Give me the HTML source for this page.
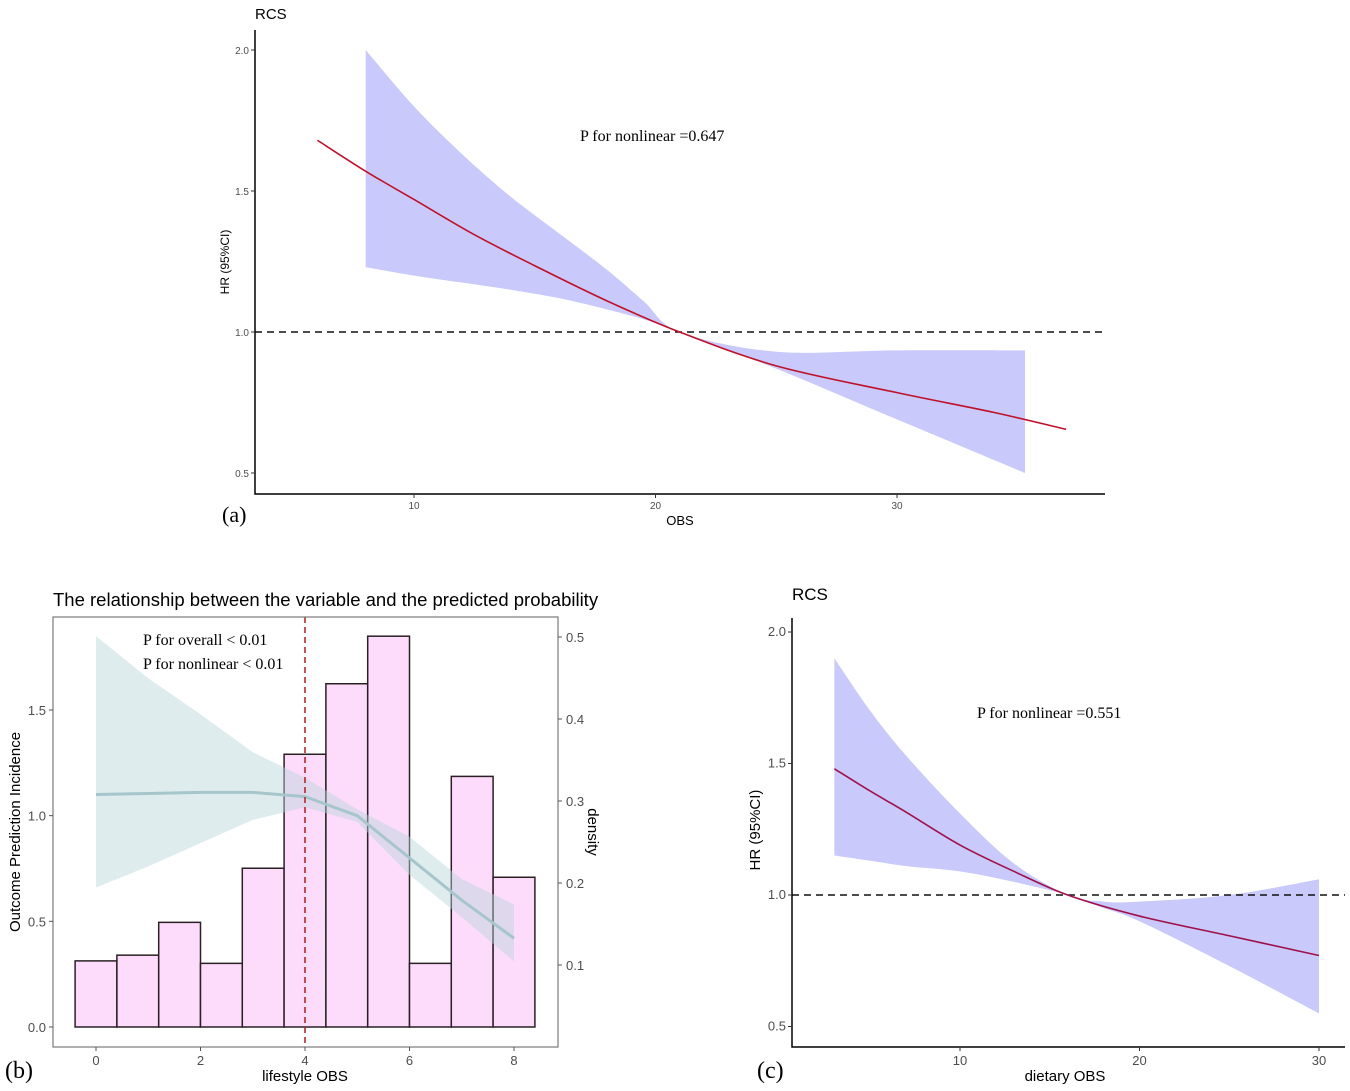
<!DOCTYPE html>
<html><head><meta charset="utf-8"><style>
body{margin:0;background:#fff}
svg{display:block;font-family:"Liberation Sans",sans-serif}
.tick{fill:#4d4d4d}
.serif{font-family:"Liberation Serif",serif}
</style></head><body>
<svg id="svg" width="1350" height="1091" viewBox="0 0 1350 1091"></svg>
<script>
// Panel A data
const aLineX=[6.0,8.0,10,12.5,15,18,21,25,30,34,37.0];
const aLineY=[1.68,1.57,1.47,1.345,1.235,1.11,1.0,0.88,0.785,0.715,0.655];
const aCIX=[8.0,10,12,14,16,18,19.5,21,25,30,35.3];
const aUpper=[2.0,1.8,1.63,1.48,1.35,1.22,1.11,1.0,0.93,0.935,0.935];
const aLower=[1.23,1.2,1.175,1.15,1.12,1.08,1.045,1.0,0.87,0.69,0.5];
const aXTicks=[10,20,30];
const aYTicks=[0.5,1.0,1.5,2.0];
// Panel B data
const bBarCenters=[0,0.8,1.6,2.4,3.2,4,4.8,5.6,6.4,7.2,8];
const bDensity=[0.105,0.112,0.152,0.102,0.218,0.357,0.443,0.501,0.102,0.33,0.207];
const bLineX=[0,1,2,3,4,5,6,7,8];
const bLineY=[1.10,1.105,1.11,1.11,1.09,1.0,0.8,0.6,0.42];
const bUpper=[1.85,1.65,1.48,1.3,1.18,1.03,0.9,0.7,0.58];
const bLower=[0.66,0.76,0.87,0.98,1.04,0.97,0.72,0.52,0.31];
const bXTicks=[0,2,4,6,8];
const bYTicks=[0.0,0.5,1.0,1.5];
const bDTicks=[0.1,0.2,0.3,0.4,0.5];
const bCut=4;
// Panel C data
const cLineX=[3,5,7,10,13,16,20,25,30];
const cLineY=[1.48,1.395,1.315,1.19,1.09,1.0,0.92,0.845,0.77];
const cCIX=[3,5,7,10,13,16,18,20,25,30];
const cUpper=[1.9,1.7,1.53,1.31,1.12,1.0,0.975,0.975,1.0,1.06];
const cLower=[1.15,1.13,1.11,1.09,1.05,1.0,0.95,0.9,0.73,0.55];
const cXTicks=[10,20,30];
const cYTicks=[0.5,1.0,1.5,2.0];

const svg=document.getElementById('svg');
const NS='http://www.w3.org/2000/svg';
function el(tag,attrs,parent){const e=document.createElementNS(NS,tag);for(const k in attrs)e.setAttribute(k,attrs[k]);(parent||svg).appendChild(e);return e;}
function lin(d0,d1,r0,r1){return v=>r0+(v-d0)*(r1-r0)/(d1-d0);}
function spline(pts){let d='M'+pts[0][0]+','+pts[0][1];for(let i=0;i<pts.length-1;i++){const p0=pts[Math.max(0,i-1)],p1=pts[i],p2=pts[i+1],p3=pts[Math.min(pts.length-1,i+2)];const c1=[p1[0]+(p2[0]-p0[0])/6,p1[1]+(p2[1]-p0[1])/6],c2=[p2[0]-(p3[0]-p1[0])/6,p2[1]-(p3[1]-p1[1])/6];d+=' C'+c1+' '+c2+' '+p2;}return d;}
function txt(x,y,s,attrs,name){const t=el('text',Object.assign({x:x,y:y},attrs||{}));t.textContent=s;return t;}

function rcs(o){
  const g=el('g',{});
  const X=lin(o.xd[0],o.xd[1],o.xr[0],o.xr[1]),Y=lin(o.yd[0],o.yd[1],o.yr[0],o.yr[1]);
  const up=o.cx.map((x,i)=>[X(x),Y(o.up[i])]),lo=o.cx.map((x,i)=>[X(x),Y(o.lo[i])]).reverse();
  const band=el('path',{d:spline(up)+' L'+lo[0]+' '+spline(lo).slice(1)+' Z',fill:'#c9c9fb'},g);
  
  const ref=el('line',{x1:o.left,x2:o.right,y1:Y(1),y2:Y(1),stroke:'#111','stroke-width':1.5,'stroke-dasharray':'7,5'},g);
  
  const ln=el('path',{d:spline(o.lx.map((x,i)=>[X(x),Y(o.ly[i])])),fill:'none',stroke:o.lc,'stroke-width':1.6},g);
  
  const ax=el('path',{d:`M${o.left},${o.top} V${o.bottom} H${o.right}`,fill:'none',stroke:'#000','stroke-width':1.5},g);
  
  o.yt.forEach(v=>{el('line',{x1:o.left-4,x2:o.left,y1:Y(v),y2:Y(v),stroke:'#333'},g);txt(o.left-6,Y(v)+4,v.toFixed(1),{class:'tick','text-anchor':'end','font-size':o.fs},'y-tick-label');});
  o.xt.forEach(v=>{el('line',{x1:X(v),x2:X(v),y1:o.bottom,y2:o.bottom+4,stroke:'#333'},g);txt(X(v),o.bottom+5+o.fs,String(v),{class:'tick','text-anchor':'middle','font-size':o.fs},'x-tick-label');});
}
rcs({name:'panel-a',xd:[10,30],xr:[414,897],yd:[1,2],yr:[332,50],left:255,right:1105,top:30,bottom:494,cx:aCIX,up:aUpper,lo:aLower,lx:aLineX,ly:aLineY,xt:aXTicks,yt:aYTicks,fs:10,lc:'#c0102a'});
txt(255,19,'RCS',{'font-size':15},'panel-a-title');
txt(580,141,'P for nonlinear =0.647',{class:'serif','font-size':16},'p-nonlinear-a');
txt(229,262,'HR (95%CI)',{'font-size':12,transform:'rotate(-90 229 262)','text-anchor':'middle'},'y-axis-title-a');
txt(680,525,'OBS',{'font-size':13,'text-anchor':'middle'},'x-axis-title-a');
txt(222,522,'(a)',{class:'serif','font-size':22},'panel-a-label');

rcs({name:'panel-c',xd:[10,30],xr:[960,1319],yd:[1,2],yr:[895,632],left:792,right:1345,top:618,bottom:1047,cx:cCIX,up:cUpper,lo:cLower,lx:cLineX,ly:cLineY,xt:cXTicks,yt:cYTicks,fs:13,lc:'#a0104a'});
txt(792,600,'RCS',{'font-size':17},'panel-c-title');
txt(977,718,'P for nonlinear =0.551',{class:'serif','font-size':16},'p-nonlinear-c');
txt(760,830,'HR (95%CI)',{'font-size':15,transform:'rotate(-90 760 830)','text-anchor':'middle'},'y-axis-title-c');
txt(1065,1081,'dietary OBS',{'font-size':15,'text-anchor':'middle'},'x-axis-title-c');
txt(757,1078,'(c)',{class:'serif','font-size':24},'panel-c-label');

// Panel B
(function(){
  const g=el('g',{});
  const X=lin(0,8,96,514),Y=lin(0,1.5,1027,710),D=lin(0.1,0.5,965,637);
  const base=Y(0),w=(X(0.8)-X(0));
  bBarCenters.forEach((c,i)=>{const r=el('rect',{x:X(c)-w/2,y:D(bDensity[i]),width:w,height:base-D(bDensity[i]),fill:'#fddbfb',stroke:'#2a2024','stroke-width':1.5},g);
    });
  const up=bLineX.map((x,i)=>[X(x),Y(bUpper[i])]),lo=bLineX.map((x,i)=>[X(x),Y(bLower[i])]).reverse();
  const band=el('path',{d:'M'+up.concat(lo).join(' L')+' Z',fill:'#b9d4d9','fill-opacity':0.45},g);
  
  const ln=el('path',{d:'M'+bLineX.map((x,i)=>[X(x),Y(bLineY[i])]).join(' L'),fill:'none',stroke:'#a6c6cc','stroke-width':3,'stroke-linejoin':'round'},g);
  
  const cut=el('line',{x1:X(bCut),x2:X(bCut),y1:617,y2:1047,stroke:'#b01c1c','stroke-width':1.5,'stroke-dasharray':'6,4'},g);
  
  const box=el('rect',{x:53,y:617,width:505,height:430,fill:'none',stroke:'#7a7a7a','stroke-width':1.2},g);
  
  bYTicks.forEach(v=>{el('line',{x1:49,x2:53,y1:Y(v),y2:Y(v),stroke:'#555'},g);txt(46,Y(v)+5,v.toFixed(1),{class:'tick','text-anchor':'end','font-size':13},'y-tick-label');});
  bDTicks.forEach(v=>{el('line',{x1:558,x2:562,y1:D(v),y2:D(v),stroke:'#555'},g);txt(566,D(v)+5,v.toFixed(1),{class:'tick','font-size':13},'density-tick-label');});
  bXTicks.forEach(v=>{el('line',{x1:X(v),x2:X(v),y1:1047,y2:1051,stroke:'#555'},g);txt(X(v),1065,String(v),{class:'tick','text-anchor':'middle','font-size':13},'x-tick-label');});
})();
txt(53,606,'The relationship between the variable and the predicted probability',{'font-size':18.5},'panel-b-title');
txt(143,645,'P for overall < 0.01',{class:'serif','font-size':16},'p-overall-b');
txt(143,669,'P for nonlinear < 0.01',{class:'serif','font-size':16},'p-nonlinear-b');
txt(20,832,'Outcome Prediction Incidence',{'font-size':15,transform:'rotate(-90 20 832)','text-anchor':'middle'},'y-axis-title-b');
txt(588,832,'density',{'font-size':15,transform:'rotate(90 588 832)','text-anchor':'middle'},'density-axis-title');
txt(305,1081,'lifestyle OBS',{'font-size':15,'text-anchor':'middle'},'x-axis-title-b');
txt(5,1078,'(b)',{class:'serif','font-size':24},'panel-b-label');
</script>
</body></html>
